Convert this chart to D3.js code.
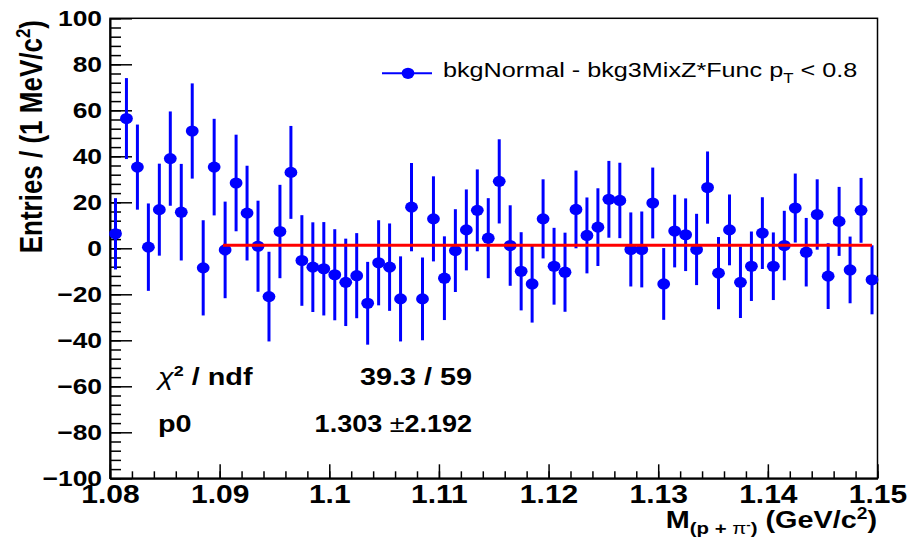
<!DOCTYPE html>
<html lang="en">
<head>
<meta charset="UTF-8">
<title>bkgNormal - bkg3MixZ*Func</title>
<script src="https://d3js.org/d3.v7.min.js"></script>
<style>
body { margin: 0; background: #fff; }
svg { display: block; }
text { font-family: "Liberation Sans", Arial, Helvetica, sans-serif; fill: #000; }
</style>
</head>
<body>
<svg id="canvas" width="907" height="544"></svg>
<script>
// histogram bins (1 MeV wide)
const binCenters = [
  1.0805, 1.0815, 1.0825, 1.0835, 1.0845, 1.0855, 1.0865, 1.0875, 1.0885, 1.0895,
  1.0905, 1.0915, 1.0925, 1.0935, 1.0945, 1.0955, 1.0965, 1.0975, 1.0985, 1.0995,
  1.1005, 1.1015, 1.1025, 1.1035, 1.1045, 1.1055, 1.1065, 1.1075, 1.1085, 1.1095,
  1.1105, 1.1115, 1.1125, 1.1135, 1.1145, 1.1155, 1.1165, 1.1175, 1.1185, 1.1195,
  1.1205, 1.1215, 1.1225, 1.1235, 1.1245, 1.1255, 1.1265, 1.1275, 1.1285, 1.1295,
  1.1305, 1.1315, 1.1325, 1.1335, 1.1345, 1.1355, 1.1365, 1.1375, 1.1385, 1.1395,
  1.1405, 1.1415, 1.1425, 1.1435, 1.1445, 1.1455, 1.1465, 1.1475, 1.1485, 1.1495
];
const entries = [
  6.3, 56.4, 35.3, 0.5, 16.8, 39, 15.7, 51, -8.5, 35.3,
  -0.7, 28.4, 15.3, 0.9, -21, 7.3, 33, -5.3, -8.2, -8.9,
  -11.5, -14.8, -11.9, -23.9, -6.3, -8.2, -22, 17.9, -22, 12.8,
  -13, -1, 8, 16.5, 4.4, 29.1, 1.2, -10, -15.5, 12.8,
  -7.8, -10.4, 16.9, 5.6, 9.2, 21.3, 20.8, -0.5, -0.5, 19.7,
  -15.5, 7.5, 5.9, -0.5, 26.4, -10.8, 8, -14.8, -7.8, 6.6,
  -7.8, 1.2, 17.5, -1.7, 14.7, -12.1, 11.7, -9.4, 16.5, -13.7
];
const errors = [
  15.5, 17.6, 18.5, 19, 20, 20.5, 21, 20.7, 20.7, 21,
  21, 21, 20.6, 19.8, 19.5, 20.3, 20.2, 19.7, 19.5, 20.3,
  19.8, 19, 18.5, 18, 18.5, 19, 18.5, 19.2, 18, 18.5,
  18.2, 18, 17.6, 17.8, 17.4, 18.3, 17.5, 17, 16.8, 17.2,
  16.7, 17.2, 16.9, 16.5, 16.9, 16.7, 16.4, 16.1, 16.5, 15.4,
  15.6, 15.8, 15.8, 15.5, 15.7, 15.7, 15.4, 15.5, 15.1, 15.6,
  14.7, 15.1, 15, 14.9, 15.3, 14.3, 15, 14.5, 14.1, 15
];
const xTicks = [1.08, 1.09, 1.1, 1.11, 1.12, 1.13, 1.14, 1.15];
const yTicks = [-100, -80, -60, -40, -20, 0, 20, 40, 60, 80, 100];
const fitP0 = 1.303;
const fitErr = 2.192;
const fitRange = [1.0903, 1.1495];
const chi2 = '39.3 / 59';

// the picture is stretched sideways, so all text gets the same stretch
const SX = 1.2;
const blue = '#0000ff';

let svg = d3.select('#canvas');
let x = d3.scaleLinear().domain([1.08, 1.15]).range([110, 877.5]);
let y = d3.scaleLinear().domain([-100, 100]).range([478.3, 18.3]);

// frame
svg.append('rect')
  .attr('x', x(1.08)).attr('y', y(100))
  .attr('width', x(1.15) - x(1.08)).attr('height', y(-100) - y(100))
  .attr('fill', 'none').attr('stroke', '#000').attr('stroke-width', 1.5);

// x axis
let xMinor = d3.range(1.08, 1.1501, 0.002);
svg.append('g')
  .attr('transform', 'translate(0,' + y(-100) + ')')
  .call(d3.axisBottom(x).tickValues(xMinor).tickSize(-7).tickSizeOuter(0).tickFormat(''))
  .call(g => g.select('.domain').remove());
let gx = svg.append('g')
  .attr('transform', 'translate(0,' + y(-100) + ')')
  .call(d3.axisBottom(x).tickValues(xTicks).tickSize(-14).tickSizeOuter(0).tickFormat(d3.format('~g')));
gx.select('.domain').attr('stroke-width', 2);
gx.selectAll('text')
  .attr('y', 7).attr('dy', '0.71em')
  .attr('font-size', 25).attr('font-weight', 'bold')
  .attr('transform', 'scale(' + SX + ',1)');

// y axis
let yMinor = d3.range(-100, 101, 4);
svg.append('g')
  .attr('transform', 'translate(' + x(1.08) + ',0)')
  .call(d3.axisLeft(y).tickValues(yMinor).tickSize(-11).tickSizeOuter(0).tickFormat(''))
  .call(g => g.select('.domain').remove());
let gy = svg.append('g')
  .attr('transform', 'translate(' + x(1.08) + ',0)')
  .call(d3.axisLeft(y).tickValues(yTicks).tickSize(-22).tickSizeOuter(0).tickFormat(d3.format('d')));
gy.select('.domain').attr('stroke-width', 2);
gy.selectAll('text')
  .attr('x', -8 / SX).attr('dy', '0.34em')
  .attr('font-size', 22).attr('font-weight', 'bold')
  .attr('transform', 'scale(' + SX + ',1)');
svg.selectAll('.tick line').attr('stroke-width', 1.5);

// axis titles
let xt = svg.append('text')
  .attr('transform', 'translate(877,528) scale(' + SX + ',1)')
  .attr('text-anchor', 'end').attr('font-size', 24).attr('font-weight', 'bold');
xt.append('tspan').text('M');
xt.append('tspan').attr('dy', 6).attr('font-size', 17).text('(p + ');
xt.append('tspan').attr('font-size', 17).attr('font-weight', 'normal').text('π');
xt.append('tspan').attr('dy', -6).attr('font-size', 11).text('-');
xt.append('tspan').attr('dy', 6).attr('font-size', 17).text(')');
xt.append('tspan').attr('dy', -6).text(' (GeV/c');
xt.append('tspan').attr('dy', -9).attr('font-size', 16).text('2');
xt.append('tspan').attr('dy', 9).text(')');

let yt = svg.append('text')
  .attr('transform', 'translate(42,20) scale(' + SX + ',1) rotate(-90)')
  .attr('text-anchor', 'end').attr('font-size', 26).attr('font-weight', 'bold');
yt.append('tspan').text('Entries / (1 MeV/c');
yt.append('tspan').attr('dy', -10).attr('font-size', 17).text('2');
yt.append('tspan').attr('dy', 10).text(')');

// error bars and markers
let pts = binCenters.map((c, i) => ({ x: c, v: entries[i], e: errors[i] }));
svg.append('g').selectAll('line')
  .data(pts).enter().append('line')
  .attr('x1', d => x(d.x)).attr('x2', d => x(d.x))
  .attr('y1', d => y(d.v + d.e)).attr('y2', d => y(d.v - d.e))
  .attr('stroke', blue).attr('stroke-width', 3);
svg.append('g').selectAll('ellipse')
  .data(pts).enter().append('ellipse')
  .attr('cx', d => x(d.x)).attr('cy', d => y(d.v))
  .attr('rx', 6.4).attr('ry', 5.6)
  .attr('fill', blue);

// fit
svg.append('line')
  .attr('x1', x(fitRange[0])).attr('x2', x(fitRange[1]))
  .attr('y1', y(fitP0)).attr('y2', y(fitP0))
  .attr('stroke', '#ff0000').attr('stroke-width', 3);

// legend
svg.append('line')
  .attr('x1', 382).attr('x2', 432).attr('y1', 73.3).attr('y2', 73.3)
  .attr('stroke', blue).attr('stroke-width', 2);
svg.append('ellipse')
  .attr('cx', 408).attr('cy', 73.3).attr('rx', 6.4).attr('ry', 5.6).attr('fill', blue);
let lt = svg.append('text')
  .attr('transform', 'translate(443,77) scale(' + SX + ',1)')
  .attr('font-size', 21);
lt.append('tspan').text('bkgNormal - bkg3MixZ*Func p');
lt.append('tspan').attr('dy', 6).attr('font-size', 14).text('T');
lt.append('tspan').attr('dy', -6).text(' < 0.8');

// fit statistics
let s1 = svg.append('text')
  .attr('transform', 'translate(158,385) scale(' + SX + ',1)')
  .attr('font-size', 24).attr('font-weight', 'bold');
s1.append('tspan').attr('font-weight', 'normal').attr('font-style', 'italic').text('χ');
s1.append('tspan').attr('dy', -9).attr('font-size', 15).text('2');
s1.append('tspan').attr('dy', 9).text(' / ndf');
svg.append('text')
  .attr('transform', 'translate(472,385) scale(' + SX + ',1)')
  .attr('text-anchor', 'end').attr('font-size', 24).attr('font-weight', 'bold')
  .text(chi2);
svg.append('text')
  .attr('transform', 'translate(158,432) scale(' + SX + ',1)')
  .attr('font-size', 24).attr('font-weight', 'bold')
  .text('p0');
let s2 = svg.append('text')
  .attr('transform', 'translate(472,432) scale(' + (SX * 22.5 / 24) + ',1)')
  .attr('text-anchor', 'end').attr('font-size', 24).attr('font-weight', 'bold');
s2.append('tspan').text(fitP0.toFixed(3) + ' ');
s2.append('tspan').attr('font-weight', 'normal').text('±');
s2.append('tspan').text(fitErr.toFixed(3));
</script>
</body>
</html>
